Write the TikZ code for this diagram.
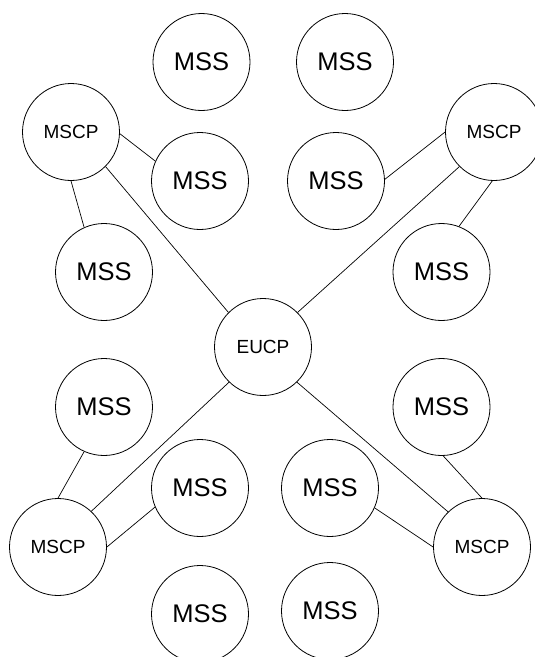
\documentclass[tikz,border=0pt]{standalone}
\usepackage{fontspec}
\setmainfont{Liberation Sans}
\begin{document}
\begin{tikzpicture}[x=1pt,y=-1pt,
  nd/.style={circle,draw=black,line width=0.8pt,minimum size=97pt,inner sep=0pt},
  mss/.style={nd,font=\fontsize{25.5}{30}\selectfont},
  cp/.style={nd,font=\fontsize{19}{23}\selectfont},
  link/.style={draw=black,line width=0.7pt}]
\useasboundingbox (0,0) rectangle (535,657);
\node[mss] (s1) at (201.5,62) {MSS};
\node[mss] (s2) at (345,62) {MSS};
\node[cp] (tl) at (71,132) {MSCP};
\node[cp] (tr) at (494,132) {MSCP};
\node[mss] (s3) at (200,181) {MSS};
\node[mss] (s4) at (336,181) {MSS};
\node[mss] (s5) at (104,272) {MSS};
\node[mss] (s6) at (441.5,272) {MSS};
\node[cp] (eu) at (263,347) {EUCP};
\node[mss] (s7) at (104,407) {MSS};
\node[mss] (s8) at (441.5,407) {MSS};
\node[mss] (s9) at (200,488) {MSS};
\node[mss] (s10) at (330,488) {MSS};
\node[cp] (bl) at (58,547) {MSCP};
\node[cp] (br) at (482,547) {MSCP};
\node[mss] (s11) at (200,614) {MSS};
\node[mss] (s12) at (330,611) {MSS};
\draw[link] (tl.-2) -- (s3.156);
\draw[link] (tl.-90) -- (s5.114);
\draw[link] (tl.-45.5) -- (eu.135);
\draw[link] (tr.180) -- (s4.2);
\draw[link] (tr.225.5) -- (eu.45);
\draw[link] (tr.-92) -- (s6.69);
\draw[link] (eu.226) -- (bl.47);
\draw[link] (s7.246) -- (bl.90);
\draw[link] (s9.203) -- (bl.0);
\draw[link] (eu.-46) -- (br.134.5);
\draw[link] (s8.-88) -- (br.90);
\draw[link] (s10.-24) -- (br.180);
\end{tikzpicture}
\end{document}
